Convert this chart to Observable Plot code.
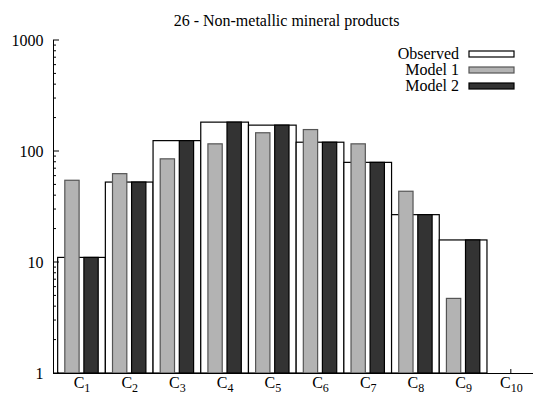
<!DOCTYPE html>
<html><head><meta charset="utf-8">
<script src="https://cdn.jsdelivr.net/npm/d3@7"></script>
<script src="https://cdn.jsdelivr.net/npm/@observablehq/plot@0.6"></script>
<style>html,body{margin:0;padding:0;background:#fff} svg{display:block}</style>
</head><body><div id="chart"></div>
<script>
// ---- data ----
const title = "26 - Non-metallic mineral products";
const categories = [1, 2, 3, 4, 5, 6, 7, 8, 9, 10];
const catPrefix = "C";
const seriesNames = ["Observed", "Model 1", "Model 2"];
const observed = [11, 52.5, 124, 182, 171, 120, 79, 26.7, 15.8, null];
const model1   = [54.5, 62.5, 85, 116, 146, 156, 116, 43.4, 4.7, null];
const model2   = [11, 52.5, 124, 182, 171, 120, 79, 26.7, 15.8, null];
const yTicks = [1, 10, 100, 1000];

// ---- layout / style ----
const W = 533, H = 405, mL = 53, mR = 0, mT = 40, mB = 32;
const xDomain = [0.4025, 10.465];
const offsets = {"Observed": [-0.5, 0.5], "Model 1": [-0.35, -0.05], "Model 2": [0.05, 0.35]};
const fills = {"Observed": "#ffffff", "Model 1": "#b3b3b3", "Model 2": "#333333"};
const strokes = {"Observed": "#000000", "Model 1": "#555555", "Model 2": "#000000"};
const font = "'Liberation Serif', 'Times New Roman', Times, serif";

const seriesValues = {"Observed": observed, "Model 1": model1, "Model 2": model2};
const rows = [];
for (const s of seriesNames) {
  categories.forEach((c, i) => {
    const v = seriesValues[s][i];
    if (v != null) rows.push({series: s, cat: c, value: v, x1: c + offsets[s][0], x2: c + offsets[s][1]});
  });
}

const barMarks = seriesNames.map(s => Plot.rect(rows.filter(r => r.series === s), {
  x1: "x1", x2: "x2", y1: 1, y2: "value", fill: fills[s], stroke: strokes[s], strokeWidth: 1.2
}));

const chart = Plot.plot({
  width: W, height: H, marginLeft: mL, marginRight: mR, marginTop: mT, marginBottom: mB,
  style: {fontFamily: font, fontSize: "16px", background: "#fff", color: "#000", overflow: "visible"},
  x: {type: "linear", domain: xDomain},
  y: {type: "log", domain: [1, 1000]},
  marks: [
    ...barMarks,
    Plot.ruleY([1], {stroke: "#000", strokeWidth: 1}),
    Plot.ruleX([xDomain[0]], {stroke: "#000", strokeWidth: 1}),
    Plot.axisY({ticks: yTicks, tickSize: 0, tickPadding: 10, tickFormat: d => String(d), label: null, fontSize: 16}),
    Plot.axisX({ticks: categories, tickSize: 0, tickPadding: 3, tickFormat: d => catPrefix + d, label: null, fontSize: 16}),
    Plot.text([title], {frameAnchor: "top", dy: -25.5, dx: -7, fontSize: 16, fill: "#000"})
  ]
});
document.getElementById("chart").appendChild(chart);

const svg = d3.select(chart);
const xs = chart.scale("x"), ys = chart.scale("y");

// subscripts on category labels
svg.selectAll('g[aria-label="x-axis tick label"] text').each(function() {
  const t = this.textContent;
  const num = t.slice(catPrefix.length);
  const sel = d3.select(this);
  sel.text(catPrefix);
  sel.append("tspan").attr("font-size", 12).attr("dy", 4).text(num);
});

// y ticks (major + minor), pointing inward
const tickG = svg.append("g").attr("stroke", "#000").attr("stroke-width", 1);
for (const d of [1, 10, 100]) {
  for (let k = 1; k <= 9; k++) {
    const v = k * d, py = ys.apply(v), len = k === 1 ? 6 : 3;
    tickG.append("line").attr("x1", mL).attr("x2", mL + len).attr("y1", py).attr("y2", py);
  }
}
{ const py = ys.apply(1000); tickG.append("line").attr("x1", mL).attr("x2", mL + 6).attr("y1", py).attr("y2", py); }

// x ticks behind bars
const xTickG = svg.insert("g", ":first-child").attr("stroke", "#000").attr("stroke-width", 1);
const baseY = ys.apply(1);
for (const c of categories) {
  const px = xs.apply(c);
  xTickG.append("line").attr("x1", px).attr("x2", px).attr("y1", baseY - 4).attr("y2", baseY);
}

// legend (inside plot, top right)
const leg = svg.append("g").attr("font-family", font).attr("font-size", 16);
seriesNames.forEach((s, i) => {
  const base = 58.5 + 16 * i;
  leg.append("text").attr("x", 459).attr("y", base).attr("text-anchor", "end").attr("fill", "#000").text(s);
  leg.append("rect").attr("x", 469).attr("y", base - 7.5).attr("width", 45).attr("height", 6)
    .attr("fill", fills[s]).attr("stroke", strokes[s]).attr("stroke-width", 1.2);
});
</script>
</body></html>
